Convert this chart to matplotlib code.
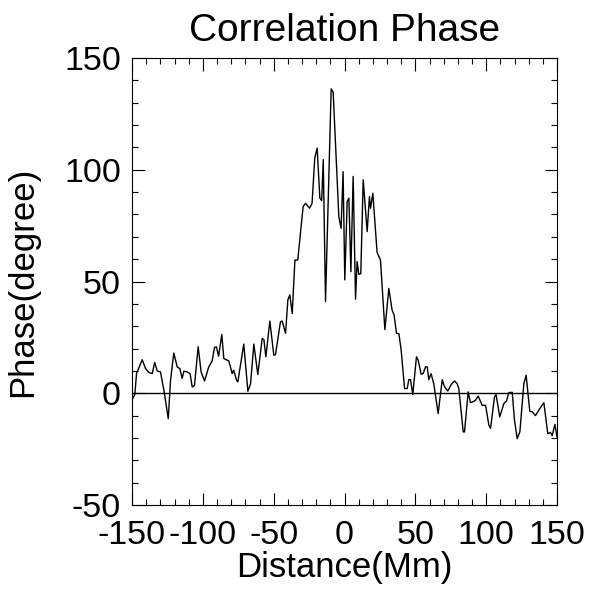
import matplotlib
matplotlib.use("Agg")
import matplotlib.pyplot as plt
from matplotlib.ticker import MultipleLocator

plt.rcParams['font.family'] = ['Liberation Sans', 'DejaVu Sans']
plt.rcParams['axes.unicode_minus'] = False

distance = [-150, -148, -146.8, -142.8, -140.4, -138, -135.7, -134, -132.2, -129.9,
            -127.5, -124.4, -122.8, -120.5, -118.1, -116.2, -114.6, -113.4, -111, -109,
            -107.5, -105.9, -103.3, -101.2, -98.8, -95.8, -93.4, -91.8, -90.4, -88.9,
            -86.6, -85.2, -81.7, -80.5, -79.3, -78.2, -76.2, -75.3, -71.1, -68.2,
            -66.3, -64, -61.2, -58.1, -56.9, -55.5, -52.7, -49.9, -48.7, -45.2,
            -44, -41.6, -40, -38.6, -36.9, -35, -33, -29.2, -27.5, -24.7,
            -22.9, -21, -19.3, -17.4, -16.1, -15, -13.4, -9.4, -8, -4,
            -2.4, -1, 0.2, 1.9, 3.1, 4.5, 6.1, 7.8, 8.9, 10.1,
            11.5, 13.2, 16, 17.6, 18.4, 20, 23, 25.4, 28.5, 31.3,
            33.6, 35, 36.7, 38.4, 40, 42.4, 44.3, 45.4, 46.6, 48.2,
            50.8, 52, 54.1, 55.5, 57.2, 58.4, 59.5, 61.1, 63, 66.1,
            69, 70.5, 72.9, 75.3, 77.6, 79.5, 80.7, 83.8, 84.7, 87.3,
            88.9, 90.8, 92.5, 94.4, 97.2, 99.6, 101.9, 103.1, 105.9, 107,
            109.6, 112.5, 114.4, 116, 118.4, 120, 121.9, 123.8, 126.6, 128.2,
            130.8, 132.5, 134.8, 137.2, 140.7, 143.5, 145.4, 146.6, 148.5, 150]
phase = [-3, -0.5, 8.8, 15, 11, 9.3, 8.8, 13.8, 10, 9.5,
         1.4, -11.4, 5.8, 18, 11.8, 11, 6.6, 9.9, 9.5, 8.8,
         2.8, 3.5, 20.8, 9.5, 5.5, 11.8, 14.5, 20.5, 20.8, 16.6,
         26.3, 15.5, 14.5, 11.8, 8.8, 10.3, 5.8, 5.1, 22, 0.9,
         4.3, 22, 8.4, 24.5, 24, 16.3, 32.3, 17, 17.3, 32,
         32.3, 26.8, 41.7, 44, 35.7, 59.6, 59.6, 83.5, 85, 82.8,
         85, 105.2, 109.7, 87.3, 86.2, 104.5, 41, 136.2, 134.7, 79,
         73.8, 99.2, 50.7, 85.8, 87.3, 54.4, 97, 42.1, 58.9, 53.2,
         53.5, 95.5, 72.3, 88, 82.8, 89.5, 63, 59.6, 28.5, 46.9,
         37.2, 35, 26.8, 26.6, 19.3, 2.1, 2.1, 6.1, 6.1, -0.6,
         16.3, 14.8, 8.5, 8.8, 11.8, 11.8, 6.1, 8.8, 4.3, -9.1,
         6.1, 3.1, 1, 3.9, 5.5, 4.3, 2.1, -17.3, -17.3, 0.6,
         -4.2, -3.8, -3.1, -1.3, -5.4, -5.4, -14.3, -15.7, -1.6, -0.6,
         -10.6, -4.6, -3.4, 0.3, 0.4, -12.1, -20.3, -17.2, 4.3, 8.1,
         -8.1, -8.3, -10, -7.5, -4.2, -18.1, -17.5, -19, -13.9, -19.6]

fig = plt.figure(figsize=(5.9, 5.94), dpi=100)
ax = fig.add_axes([132/590, 1-505/594, 425/590, 447/594])
ax.plot(distance, phase, color='black', lw=1.0)
ax.axhline(0, color='black', lw=1.0)
ax.set_xlim(-150, 150)
ax.set_ylim(-50, 150)
ax.xaxis.set_major_locator(MultipleLocator(50))
ax.xaxis.set_minor_locator(MultipleLocator(10))
ax.yaxis.set_major_locator(MultipleLocator(50))
ax.yaxis.set_minor_locator(MultipleLocator(10))
ax.tick_params(which='both', direction='in', top=True, right=True, width=0.8, colors='black')
ax.tick_params(which='major', length=9, labelsize=24.5)
ax.tick_params(axis='x', which='major', pad=11)
ax.tick_params(axis='y', which='major', pad=8)
ax.tick_params(which='minor', length=4.5)
for s in ax.spines.values():
    s.set_linewidth(0.8)
ax.set_xlabel('Distance(Mm)', fontsize=25, labelpad=0)
ax.set_ylabel('Phase(degree)', fontsize=25, labelpad=18)
ax.set_title('Correlation Phase', fontsize=28, pad=12)
fig.savefig('out.png', dpi=100)
